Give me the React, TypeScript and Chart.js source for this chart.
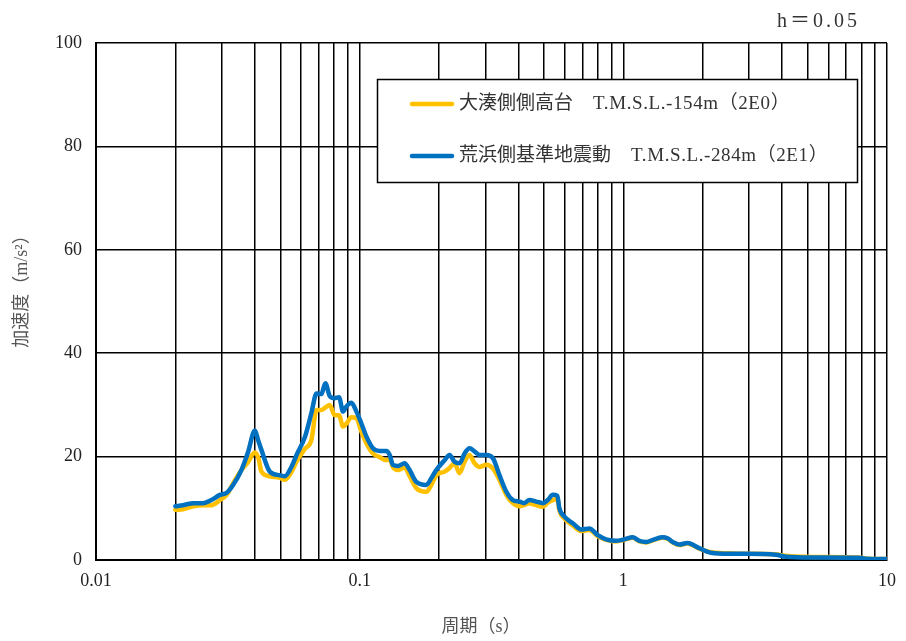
import React, { useEffect, useRef } from 'react';
import { Chart, registerables } from 'chart.js';

Chart.register(...registerables);

// ---- data (period in s, acceleration in m/s2) ----
const periods = [
  0.02, 0.0214, 0.0234, 0.0255, 0.0274, 0.0295, 0.0313, 0.0331, 0.0356, 0.0378,
  0.04, 0.0413, 0.0424, 0.0456, 0.0498, 0.052, 0.0551, 0.0576, 0.062, 0.0656,
  0.0686, 0.0716, 0.0741, 0.077, 0.0804, 0.0835, 0.0865, 0.0891, 0.093, 0.0972,
  0.1015, 0.106, 0.1123, 0.1191, 0.1262, 0.13, 0.1337, 0.1397, 0.1481, 0.1547,
  0.164, 0.1789, 0.1869, 0.1952, 0.21, 0.2193, 0.229, 0.2392, 0.25, 0.261,
  0.2727, 0.2848, 0.302, 0.32, 0.339, 0.36, 0.381, 0.404, 0.42, 0.44,
  0.467, 0.495, 0.517, 0.54, 0.562, 0.572, 0.598, 0.643, 0.692, 0.743,
  0.8, 0.86, 0.938, 1.01, 1.084, 1.15, 1.22, 1.31, 1.41, 1.47,
  1.54, 1.63, 1.75, 1.94, 2.15, 2.52, 2.92, 3.79, 4.13, 5.2,
  7.83, 8.3, 10,
];

const oominatoValues = [
  9.7, 9.8, 10.4, 10.6, 10.6, 11.6, 12.6, 14.8, 17.4, 19.0,
  20.8, 19.7, 17.1, 16.2, 15.9, 15.5, 17.0, 19.0, 21.5, 23.2,
  29.0, 29.0, 29.5, 30.0, 28.0, 28.0, 25.8, 26.4, 27.6, 27.4,
  24.8, 22.6, 20.6, 19.9, 19.3, 19.5, 18.0, 17.4, 17.9, 16.2,
  13.9, 13.2, 14.5, 16.4, 17.1, 17.8, 18.7, 16.8, 19.0, 20.3,
  18.7, 18.0, 18.4, 17.7, 15.5, 12.6, 11.0, 10.4, 10.6, 11.0,
  10.6, 10.3, 11.1, 11.6, 11.8, 9.6, 8.0, 6.7, 5.6, 5.8,
  4.6, 3.9, 3.6, 3.9, 4.3, 3.6, 3.4, 3.9, 4.3, 4.1,
  3.4, 2.9, 3.2, 2.2, 1.5, 1.3, 1.2, 1.1, 0.8, 0.6,
  0.5, 0.3, 0.2,
];

const arahamaValues = [
  10.4, 10.6, 11.0, 11.0, 11.6, 12.6, 13.0, 14.5, 17.4, 21.0,
  25.0, 23.0, 21.3, 17.1, 16.4, 16.2, 18.0, 20.3, 23.8, 28.4,
  32.2, 32.1, 34.2, 31.7, 31.3, 31.5, 28.7, 29.7, 30.4, 28.7,
  26.4, 23.9, 21.6, 21.1, 21.1, 20.3, 18.4, 18.2, 18.7, 17.4,
  15.1, 14.5, 15.8, 17.4, 19.3, 20.3, 19.0, 18.7, 20.6, 21.6,
  21.0, 20.3, 20.3, 19.7, 16.4, 13.2, 11.6, 11.3, 11.0, 11.6,
  11.3, 11.0, 11.6, 12.6, 12.4, 10.0, 8.4, 7.1, 5.9, 6.1,
  4.8, 4.0, 3.7, 4.0, 4.4, 3.7, 3.5, 4.0, 4.4, 4.2,
  3.5, 3.0, 3.3, 2.3, 1.4, 1.2, 1.2, 1.0, 0.65, 0.5,
  0.45, 0.25, 0.2,
];

const seriesNames = ['大湊側側高台', '荒浜側基準地震動'];
const seriesSuffixes = ['T.M.S.L.-154m（2E0）', 'T.M.S.L.-284m（2E1）'];

const xGridTicks = [
  0.01, 0.02, 0.03, 0.04, 0.05, 0.06, 0.07, 0.08, 0.09,
  0.1, 0.2, 0.3, 0.4, 0.5, 0.6, 0.7, 0.8, 0.9,
  1, 2, 3, 4, 5, 6, 7, 8, 9, 10,
];
const xLabelTicks = [0.01, 0.1, 1, 10];
const xLabelTexts = ['0.01', '0.1', '1', '10'];
const yTicks = [0, 20, 40, 60, 80, 100];

const dampingLabel = 'h＝0.05';
const xTitle = '周期（s）';
const yTitle = '加速度（m/s²）';

const YELLOW = '#FFC000';
const BLUE = '#0070C0';
const FONT = "'Liberation Serif', 'Noto Sans CJK JP', serif";

const overlayPlugin = {
  id: 'overlay',
  afterDraw(chart: any) {
    const ctx = chart.ctx as CanvasRenderingContext2D;
    ctx.save();

    // legend box
    ctx.fillStyle = '#ffffff';
    ctx.fillRect(377, 79, 480, 103);
    ctx.strokeStyle = '#000000';
    ctx.lineWidth = 1.5;
    ctx.strokeRect(377.5, 79.5, 480, 103);

    const rows = [
      { color: YELLOW, y: 104, name: seriesNames[0], suffix: seriesSuffixes[0] },
      { color: BLUE, y: 156, name: seriesNames[1], suffix: seriesSuffixes[1] },
    ];
    rows.forEach((r) => {
      ctx.strokeStyle = r.color;
      ctx.lineWidth = 4.5;
      ctx.lineCap = 'round';
      ctx.beginPath();
      ctx.moveTo(412, r.y);
      ctx.lineTo(452, r.y);
      ctx.stroke();
      ctx.fillStyle = '#333333';
      ctx.font = `19px ${FONT}`;
      ctx.textAlign = 'left';
      ctx.textBaseline = 'middle';
      ctx.fillText(r.name, 459, r.y);
      const w = ctx.measureText(r.name).width;
      (ctx as any).letterSpacing = '0.6px';
      ctx.fillText(r.suffix, 459 + w + 20, r.y);
      (ctx as any).letterSpacing = '0px';
    });

    // damping label
    ctx.fillStyle = '#333333';
    ctx.font = `20px ${FONT}`;
    (ctx as any).letterSpacing = '3px';
    ctx.textAlign = 'right';
    ctx.textBaseline = 'middle';
    ctx.fillText(dampingLabel, 860, 22);
    (ctx as any).letterSpacing = '0px';

    // axis titles
    ctx.fillStyle = '#555555';
    ctx.font = `18px ${FONT}`;
    ctx.textAlign = 'center';
    ctx.textBaseline = 'middle';
    ctx.fillText(xTitle, 481, 627);

    ctx.translate(22, 287);
    ctx.rotate(-Math.PI / 2);
    ctx.fillText(yTitle, 0, 0);

    ctx.restore();
  },
};

export default function App() {
  const canvasRef = useRef<HTMLCanvasElement | null>(null);

  useEffect(() => {
    if (!canvasRef.current) return;
    const toPoints = (vals: number[]) => periods.map((p, i) => ({ x: p, y: vals[i] }));

    const lineStyle = {
      borderWidth: 4.5,
      pointRadius: 0,
      cubicInterpolationMode: 'monotone',
      borderJoinStyle: 'round',
      borderCapStyle: 'round',
    };

    const chart = new Chart(canvasRef.current, {
      type: 'line',
      data: {
        datasets: [
          {
            label: seriesNames[0],
            data: toPoints(oominatoValues),
            borderColor: YELLOW,
            backgroundColor: YELLOW,
            order: 2,
            ...lineStyle,
          },
          {
            label: seriesNames[1],
            data: toPoints(arahamaValues),
            borderColor: BLUE,
            backgroundColor: BLUE,
            order: 1,
            ...lineStyle,
          },
        ],
      },
      options: {
        animation: false,
        responsive: true,
        maintainAspectRatio: false,
        devicePixelRatio: 1,
        layout: { padding: { top: 43, right: 18, left: 0, bottom: 0 } },
        plugins: {
          legend: { display: false },
          tooltip: { enabled: false },
          title: { display: false },
        },
        scales: {
          x: {
            type: 'logarithmic',
            min: 0.01,
            max: 10,
            afterBuildTicks: (scale: any) => {
              scale.ticks = xGridTicks.map((v) => ({ value: v }));
            },
            afterFit: (scale: any) => {
              scale.height = 81;
            },
            ticks: {
              autoSkip: false,
              maxRotation: 0,
              minRotation: 0,
              padding: 10,
              color: '#222222',
              font: { family: FONT, size: 18 },
              callback: (value: any) => {
                const idx = xLabelTicks.findIndex((t) => Math.abs(t - Number(value)) / t < 1e-6);
                return idx >= 0 ? xLabelTexts[idx] : '';
              },
            },
            grid: { color: '#000000', lineWidth: 1.5, drawTicks: false },
            border: { color: '#000000', width: 2 },
          },
          y: {
            type: 'linear',
            min: 0,
            max: 100,
            afterBuildTicks: (scale: any) => {
              scale.ticks = yTicks.map((v) => ({ value: v }));
            },
            afterFit: (scale: any) => {
              scale.width = 96;
            },
            ticks: {
              padding: 14,
              color: '#222222',
              font: { family: FONT, size: 18 },
            },
            grid: { color: '#000000', lineWidth: 1.5, drawTicks: false },
            border: { color: '#000000', width: 2 },
          },
        },
      },
      plugins: [overlayPlugin],
    } as any);

    return () => chart.destroy();
  }, []);

  return (
    <div style={{ position: 'fixed', left: 0, top: 0, width: 906, height: 641, background: '#ffffff' }}>
      <canvas ref={canvasRef} />
    </div>
  );
}
